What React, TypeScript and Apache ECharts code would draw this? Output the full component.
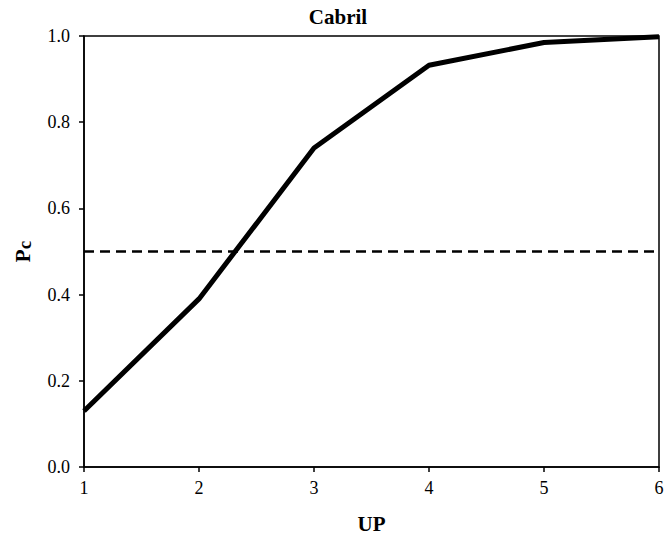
import React, { useEffect, useRef } from "react";
import * as echarts from "echarts";

const upValues = [1, 2, 3, 4, 5, 6];
const pcValues = [0.13, 0.39, 0.74, 0.932, 0.985, 0.998];
const threshold = 0.5;
const title = "Cabril";
const xName = "UP";

export default function App() {
  const ref = useRef<HTMLDivElement>(null);
  useEffect(() => {
    if (!ref.current) return;
    const chart = echarts.init(ref.current, undefined, { renderer: "svg" });
    const font = "Liberation Serif";
    chart.setOption({
      animation: false,
      backgroundColor: "#ffffff",
      title: {
        text: title,
        left: 333,
        top: 1,
        textAlign: "center",
        textStyle: { fontFamily: font, fontSize: 21, fontWeight: "bold", color: "#000" },
      },
      grid: {
        left: 84,
        right: 10,
        top: 36,
        bottom: 68,
        show: true,
        borderColor: "#000",
        borderWidth: 1.5,
      },
      xAxis: {
        type: "value",
        min: 1,
        max: 6,
        interval: 1,
        name: xName,
        nameLocation: "middle",
        nameGap: 46,
        nameTextStyle: { fontFamily: font, fontSize: 21, fontWeight: "bold", color: "#000" },
        axisLine: { lineStyle: { color: "#000", width: 1.5 } },
        axisTick: { show: true, inside: false, length: 5, lineStyle: { color: "#000", width: 1.5 } },
        axisLabel: { fontFamily: font, fontSize: 18, color: "#000", margin: 12 },
        splitLine: { show: false },
      },
      yAxis: {
        type: "value",
        min: 0,
        max: 1,
        interval: 0.2,
        name: "{p|P}{c|c}",
        nameLocation: "middle",
        nameGap: 50,
        nameRotate: 90,
        nameTextStyle: {
          rich: {
            p: { fontFamily: font, fontSize: 21, fontWeight: "bold", color: "#000" },
            c: { fontFamily: font, fontSize: 19, fontWeight: "bold", color: "#000", verticalAlign: "bottom", padding: [3, 0, 0, 0] },
          },
        },
        axisLine: { show: true, lineStyle: { color: "#000", width: 1.5 } },
        axisTick: { show: true, inside: false, length: 5, lineStyle: { color: "#000", width: 1.5 } },
        axisLabel: {
          fontFamily: font,
          fontSize: 18,
          color: "#000",
          margin: 14,
          formatter: (v: number) => v.toFixed(1),
        },
        splitLine: { show: false },
      },
      series: [
        {
          type: "line",
          data: upValues.map((u, i) => [u, pcValues[i]]),
          showSymbol: false,
          symbol: "none",
          lineStyle: { color: "#000", width: 5 },
          z: 3,
        },
        {
          type: "line",
          data: [
            [upValues[0], threshold],
            [upValues[upValues.length - 1], threshold],
          ],
          showSymbol: false,
          symbol: "none",
          lineStyle: { color: "#000", width: 2.4, type: [10, 6] },
          z: 2,
        },
      ],
    });
    return () => chart.dispose();
  }, []);
  return <div ref={ref} style={{ width: 669, height: 539, position: "absolute", left: 0, top: 0 }} />;
}
